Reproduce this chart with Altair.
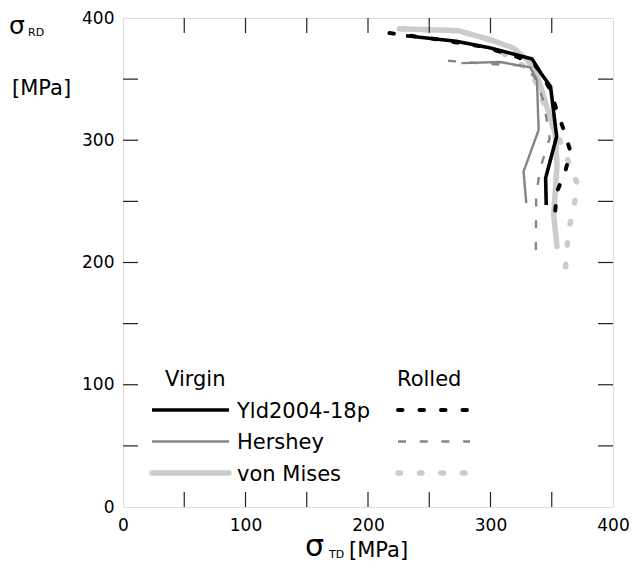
import altair as alt
import pandas as pd

# ---- data ----
yld_virgin_x = [231, 272, 300, 313, 334, 341, 349, 354, 345, 345.5]
yld_virgin_y = [385.5, 381, 375.4, 372, 366.4, 355, 344, 303, 269, 247]

yld_rolled_x = [217.5, 250, 291.4, 320, 336, 342, 348.8, 354.3, 359.8, 365.3, 361, 354.3, 352.4]
yld_rolled_y = [387.7, 383.5, 377, 369, 362, 353.6, 341.3, 323.5, 308.5, 290.8, 274.4, 258, 237.5]

her_virgin_x = [276.3, 307.8, 332.4, 337.9, 339.3, 327, 329.2]
her_virgin_y = [363.1, 364, 359.6, 349.5, 308.5, 274.4, 248.5]

her_rolled_x = [265.4, 299.6, 327, 336.5, 343.4, 348.3, 340.6, 337.3, 337]
her_rolled_y = [365, 362.3, 361.2, 351, 331.7, 301.7, 277, 255.3, 207.5]

vm_virgin_x = [225.7, 273.6, 299.6, 318.7, 329.7, 337.9, 344.7, 353, 354.3, 351.6, 354.3]
vm_virgin_y = [391.3, 389.6, 382.3, 375.4, 365.9, 353.6, 331.7, 304.4, 279.9, 238.9, 213]

vm_rolled_x = [228, 273.6, 299.6, 313.3, 328, 335.2, 343.4, 350, 358.4, 365.3, 371.3, 368, 363.9, 362, 361.1]
vm_rolled_y = [391.3, 389.6, 382, 368.6, 360, 352.2, 330.3, 318, 294.9, 278.5, 263.5, 245.7, 226.6, 208.9, 192.5]

tick_values = [50, 100, 150, 200, 250, 300, 350]
label_values = [0, 100, 200, 300, 400]

legend_models = ["Yld2004-18p", "Hershey", "von Mises"]
legend_headers = ["Virgin", "Rolled"]

# ---- build table ----
series = {
    "vm_v": (vm_virgin_x, vm_virgin_y),
    "vm_r": (vm_rolled_x, vm_rolled_y),
    "her_v": (her_virgin_x, her_virgin_y),
    "her_r": (her_rolled_x, her_rolled_y),
    "yld_v": (yld_virgin_x, yld_virgin_y),
    "yld_r": (yld_rolled_x, yld_rolled_y),
}
rows = []
for key, (xs_, ys_) in series.items():
    for i, (a, b) in enumerate(zip(xs_, ys_)):
        rows.append({"s": key, "i": i, "x": a, "y": b})
df = pd.DataFrame(rows)

W, H = 490, 489
FONT = "DejaVu Sans"

xs = alt.Scale(domain=[0, 400], nice=False, zero=False)
ys = alt.Scale(domain=[0, 400], nice=False, zero=False)

x_axis = alt.Axis(title=None, values=label_values, ticks=False, domain=False, grid=False,
                  labelFlush=False, labelOverlap=False,
                  labelFontSize=17, labelFont=FONT, labelColor="#000", labelPadding=10)
y_axis = alt.Axis(title=None, values=label_values, ticks=False, domain=False, grid=False,
                  labelFlush=False, labelOverlap=False,
                  labelFontSize=17, labelFont=FONT, labelColor="#000", labelPadding=9)

styles = {
    "vm_v": dict(color="#cccccc", strokeWidth=5.5, strokeCap="round", strokeJoin="round"),
    "vm_r": dict(color="#cccccc", strokeWidth=5.5, strokeCap="round", strokeDash=[2.5, 19]),
    "her_v": dict(color="#858585", strokeWidth=2.4, strokeJoin="round"),
    "her_r": dict(color="#858585", strokeWidth=2.4, strokeDash=[8, 13.7]),
    "yld_v": dict(color="#000000", strokeWidth=3.6, strokeJoin="round"),
    "yld_r": dict(color="#000000", strokeWidth=4, strokeCap="round", strokeDash=[4.5, 17]),
}

layers = []
for key in ["vm_v", "vm_r", "her_v", "her_r", "yld_v", "yld_r"]:
    layers.append(
        alt.Chart(df).transform_filter(alt.datum.s == key)
        .mark_line(**styles[key])
        .encode(x=alt.X("x:Q", scale=xs, axis=x_axis),
                y=alt.Y("y:Q", scale=ys, axis=y_axis),
                order=alt.Order("i:Q"))
    )

tdf = pd.DataFrame({"x": tick_values, "y": tick_values})
TL = 15
tick_color = "#222"
tick_kw = dict(color=tick_color, strokeWidth=1.2)
layers.append(alt.Chart(tdf).mark_rule(**tick_kw).encode(
    x=alt.X("x:Q", scale=xs, axis=x_axis), y=alt.value(H), y2=alt.value(H - TL)))
layers.append(alt.Chart(tdf).mark_rule(**tick_kw).encode(
    x=alt.X("x:Q", scale=xs, axis=x_axis), y=alt.value(0), y2=alt.value(TL)))
layers.append(alt.Chart(tdf).mark_rule(**tick_kw).encode(
    y=alt.Y("y:Q", scale=ys, axis=y_axis), x=alt.value(0), x2=alt.value(TL)))
layers.append(alt.Chart(tdf).mark_rule(**tick_kw).encode(
    y=alt.Y("y:Q", scale=ys, axis=y_axis), x=alt.value(W), x2=alt.value(W - TL)))


def text(label, px, py, size, align="left", baseline="alphabetic"):
    return alt.Chart(pd.DataFrame({"t": [label]})).mark_text(
        font=FONT, fontSize=size, align=align, baseline=baseline, color="#000"
    ).encode(x=alt.value(px), y=alt.value(py), text="t:N")


def rule(px1, px2, py, **kw):
    return alt.Chart(pd.DataFrame({"a": [0]})).mark_rule(**kw).encode(
        x=alt.value(px1), x2=alt.value(px2), y=alt.value(py))


# legend
leg_y = [392, 423.5, 455]
layers.append(text(legend_headers[0], 42, 368, 21))
layers.append(text(legend_headers[1], 274, 368, 21))
for name, yy, key_v, key_r in zip(legend_models, leg_y, ["yld_v", "her_v", "vm_v"], ["yld_r", "her_r", "vm_r"]):
    sv = dict(styles[key_v]); sv.pop("strokeJoin", None)
    sr = dict(styles[key_r]); sr.pop("strokeJoin", None)
    sv["strokeCap"] = "round" if key_v == "vm_v" else "butt"
    layers.append(rule(29, 106, yy, **sv))
    layers.append(rule(275, 347, yy, **sr))
    layers.append(text(name, 114, yy + 7.5, 21))

# axis titles
layers.append(text("σ", -114, 16, 25))
layers.append(text("RD", -95, 18, 11))
layers.append(text("[MPa]", -111, 77, 21))
layers.append(text("σ", 182, 538, 30))
layers.append(text("TD", 206, 540, 11))
layers.append(text("[MPa]", 226, 539, 21))

chart = alt.layer(*layers).properties(
    width=W, height=H,
    autosize=alt.AutoSizeParams(type="none"),
    padding={"left": 123, "top": 18, "right": 27, "bottom": 69},
).configure_view(stroke="#222", strokeWidth=1.5).configure(background="white")

chart.save("out.html", embed_options={"renderer": "svg", "actions": False})
